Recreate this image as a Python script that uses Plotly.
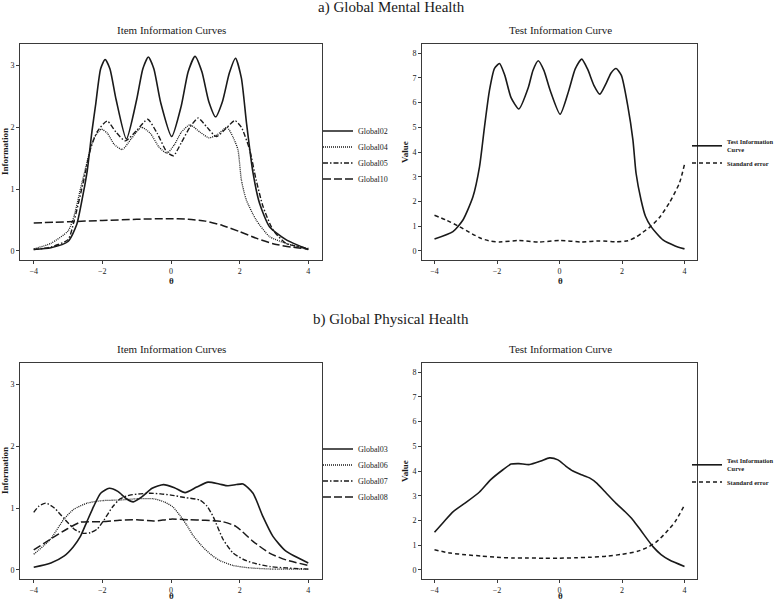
import plotly.graph_objects as go

FONT = "Liberation Serif"
INK = "#1a1a1a"
BORDER = "#3a3a3a"
W, H = 783, 600

# ---- a) Global Mental Health: item information ----
theta_g02 = [-4.0, -3.5, -3.0, -2.75, -2.55, -2.44, -2.3, -2.2, -2.05, -1.92, -1.78, -1.6,
             -1.3, -1.0, -0.82, -0.66, -0.5, -0.3, 0.02, 0.3, 0.5, 0.7, 0.9, 1.1, 1.3, 1.5,
             1.7, 1.88, 2.05, 2.2, 2.39, 2.58, 2.87, 3.35, 4.0]
info_g02 = [0.02, 0.05, 0.15, 0.42, 0.95, 1.3, 1.95, 2.35, 2.95, 3.1, 2.95, 2.45,
            1.81, 2.45, 2.95, 3.14, 2.95, 2.4, 1.85, 2.35, 2.9, 3.15, 2.9, 2.42, 2.17, 2.42,
            2.88, 3.12, 2.8, 2.07, 1.26, 0.77, 0.39, 0.18, 0.02]

theta_g04 = [-4.0, -3.5, -3.0, -2.83, -2.64, -2.44, -2.25, -2.03, -1.85, -1.65, -1.42, -1.15,
             -0.86, -0.6, -0.35, -0.12, 0.1, 0.3, 0.55, 0.85, 1.11, 1.35, 1.63, 1.8, 1.95,
             2.05, 2.19, 2.48, 2.87, 3.35, 4.0]
info_g04 = [0.03, 0.12, 0.32, 0.55, 1.0, 1.45, 1.82, 1.97, 1.9, 1.72, 1.64, 1.82,
            2.0, 1.9, 1.68, 1.58, 1.72, 1.92, 2.04, 1.92, 1.83, 1.88, 2.0, 1.85, 1.64,
            1.15, 0.83, 0.5, 0.23, 0.12, 0.02]

theta_g05 = [-4.0, -3.5, -3.0, -2.83, -2.54, -2.35, -2.15, -1.86, -1.6, -1.33, -1.0, -0.68,
             -0.4, -0.12, 0.07, 0.3, 0.55, 0.79, 1.05, 1.32, 1.6, 1.86, 2.05, 2.29, 2.48,
             2.68, 2.97, 3.35, 4.0]
info_g05 = [0.02, 0.06, 0.18, 0.47, 1.15, 1.64, 1.93, 2.1, 1.92, 1.78, 1.95, 2.13,
            1.9, 1.6, 1.54, 1.75, 2.0, 2.15, 2.0, 1.85, 1.98, 2.11, 2.0, 1.64, 1.15,
            0.72, 0.34, 0.12, 0.04]

theta_g10 = [-4.0, -3.0, -2.0, -1.0, -0.1, 0.5, 1.0, 1.5, 2.0, 2.5, 3.0, 3.5, 4.0]
info_g10 = [0.45, 0.47, 0.49, 0.51, 0.52, 0.51, 0.48, 0.41, 0.31, 0.2, 0.11, 0.06, 0.03]

# ---- a) Global Mental Health: test information ----
theta_tic_a = [-4.0, -3.41, -3.09, -2.77, -2.56, -2.4, -2.24, -2.08, -1.92, -1.75, -1.55, -1.3,
               -1.0, -0.85, -0.68, -0.5, -0.3, 0.02, 0.3, 0.5, 0.71, 0.9, 1.1, 1.29, 1.5,
               1.65, 1.81, 1.98, 2.19, 2.35, 2.45, 2.61, 2.75, 2.93, 3.31, 3.7, 4.0]
tic_a = [0.48, 0.78, 1.25, 2.19, 3.4, 5.02, 6.5, 7.38, 7.58, 7.1, 6.2, 5.74,
         6.6, 7.3, 7.69, 7.3, 6.5, 5.53, 6.5, 7.35, 7.76, 7.35, 6.7, 6.34, 6.8,
         7.2, 7.38, 7.1, 5.83, 4.48, 3.14, 2.06, 1.4, 0.98, 0.44, 0.2, 0.08]

theta_se_a = [-4.0, -3.6, -3.2, -2.8, -2.5, -2.2, -1.92, -1.3, -0.68, 0.02, 0.71, 1.29, 1.81,
              2.19, 2.45, 2.61, 2.93, 3.2, 3.52, 3.84, 4.0]
se_a = [1.44, 1.23, 0.98, 0.69, 0.5, 0.39, 0.36, 0.42, 0.36, 0.42, 0.36, 0.4, 0.37,
        0.41, 0.56, 0.7, 1.0, 1.35, 1.95, 2.75, 3.5]

# ---- b) Global Physical Health: item information ----
theta_g03 = [-4.0, -3.5, -3.12, -2.85, -2.64, -2.45, -2.25, -2.05, -1.8, -1.55, -1.3, -1.1,
             -0.85, -0.55, -0.22, 0.1, 0.41, 0.75, 1.08, 1.4, 1.66, 1.9, 2.1, 2.39, 2.68,
             2.97, 3.35, 4.0]
info_g03 = [0.04, 0.11, 0.22, 0.37, 0.54, 0.78, 1.03, 1.24, 1.32, 1.27, 1.15, 1.1,
            1.18, 1.32, 1.38, 1.33, 1.25, 1.34, 1.42, 1.39, 1.36, 1.38, 1.39, 1.24, 0.86,
            0.54, 0.3, 0.11]

theta_g06 = [-4.0, -3.52, -3.12, -2.83, -2.44, -2.0, -1.48, -1.0, -0.51, -0.2, 0.05, 0.26,
             0.45, 0.65, 0.94, 1.2, 1.42, 1.8, 2.3, 3.0, 4.0]
info_g06 = [0.25, 0.49, 0.82, 0.98, 1.08, 1.12, 1.13, 1.15, 1.15, 1.1, 1.02, 0.88,
            0.73, 0.55, 0.36, 0.23, 0.15, 0.07, 0.03, 0.01, 0.01]

theta_g07 = [-4.0, -3.85, -3.65, -3.4, -3.1, -2.8, -2.55, -2.35, -2.15, -1.96, -1.7, -1.48,
             -1.2, -0.9, -0.6, -0.3, 0.0, 0.4, 0.84, 1.05, 1.23, 1.52, 1.81, 2.1, 2.39,
             2.9, 3.35, 4.0]
info_g07 = [0.93, 1.03, 1.08, 1.0, 0.82, 0.65, 0.59, 0.6, 0.66, 0.8, 1.02, 1.15,
            1.21, 1.23, 1.24, 1.23, 1.21, 1.17, 1.13, 1.03, 0.86, 0.49, 0.27, 0.17, 0.11,
            0.05, 0.03, 0.01]

theta_g08 = [-4.0, -3.5, -3.03, -2.64, -2.0, -1.5, -1.0, -0.5, 0.0, 0.5, 1.0, 1.5, 1.9, 2.39,
             2.87, 3.35, 4.0]
info_g08 = [0.32, 0.5, 0.66, 0.77, 0.78, 0.8, 0.81, 0.79, 0.82, 0.81, 0.8, 0.78, 0.7, 0.46,
            0.27, 0.16, 0.07]

# ---- b) Global Physical Health: test information ----
theta_tic_b = [-4.0, -3.7, -3.41, -3.0, -2.56, -2.2, -1.81, -1.55, -1.3, -0.96, -0.6, -0.32,
               -0.05, 0.2, 0.43, 0.7, 0.96, 1.2, 1.5, 1.81, 2.1, 2.35, 2.6, 2.99, 3.25,
               3.52, 4.0]
tic_b = [1.52, 1.95, 2.35, 2.72, 3.15, 3.65, 4.05, 4.28, 4.3, 4.26, 4.4, 4.53,
         4.45, 4.2, 4.0, 3.85, 3.72, 3.5, 3.1, 2.69, 2.35, 2.02, 1.6, 0.94, 0.62,
         0.4, 0.14]

theta_se_b = [-4.0, -3.5, -3.0, -2.5, -2.0, -1.5, -1.0, -0.5, 0.0, 0.5, 1.0, 1.5, 2.0, 2.5,
              2.8, 3.1, 3.4, 3.7, 4.0]
se_b = [0.81, 0.68, 0.61, 0.56, 0.51, 0.48, 0.48, 0.47, 0.47, 0.49, 0.51, 0.55, 0.63, 0.75,
        0.9, 1.13, 1.5, 1.95, 2.62]

theta_ticks = [-4, -2, 0, 2, 4]
info_ticks = [0, 1, 2, 3]
value_ticks = [0, 1, 2, 3, 4, 5, 6, 7, 8]

# line styles (ggplot-like linetypes)
SOLID = "solid"
DOTTED = "1px,1px"
DOTDASH = "5px,2px,1.5px,2px"
LONGDASH = "8px,3px"
DASHED = "4px,3px"


def px(x):
    return x / W


def py(y):
    return 1 - y / H


def curve(x, y, name, dash, xa, ya, legend, width=1.4):
    return go.Scatter(
        x=x, y=y, name=name, mode="lines",
        line=dict(color=INK, width=width, dash=dash, shape="spline", smoothing=0.6),
        xaxis=xa, yaxis=ya, legend=legend, hoverinfo="skip",
    )


TIC_NAME = "<b>Test Information<br>Curve</b>"
SE_NAME = "<b>Standard error</b>"

fig = go.Figure()

# Panel a) izquierda
fig.add_trace(curve(theta_g02, info_g02, "Global02", SOLID, "x", "y", "legend", 1.6))
fig.add_trace(curve(theta_g04, info_g04, "Global04", DOTTED, "x", "y", "legend2", 1.3))
fig.add_trace(curve(theta_g05, info_g05, "Global05", DOTDASH, "x", "y", "legend3"))
fig.add_trace(curve(theta_g10, info_g10, "Global10", LONGDASH, "x", "y", "legend4", 1.5))
# Panel a) derecha
fig.add_trace(curve(theta_tic_a, tic_a, TIC_NAME, SOLID, "x2", "y2", "legend5", 1.6))
fig.add_trace(curve(theta_se_a, se_a, SE_NAME, DASHED, "x2", "y2", "legend6", 1.5))
# Panel b) izquierda
fig.add_trace(curve(theta_g03, info_g03, "Global03", SOLID, "x3", "y3", "legend7", 1.6))
fig.add_trace(curve(theta_g06, info_g06, "Global06", DOTTED, "x3", "y3", "legend8", 1.3))
fig.add_trace(curve(theta_g07, info_g07, "Global07", DOTDASH, "x3", "y3", "legend9"))
fig.add_trace(curve(theta_g08, info_g08, "Global08", LONGDASH, "x3", "y3", "legend10", 1.5))
# Panel b) derecha
fig.add_trace(curve(theta_tic_b, tic_b, TIC_NAME, SOLID, "x4", "y4", "legend11", 1.6))
fig.add_trace(curve(theta_se_b, se_b, SE_NAME, DASHED, "x4", "y4", "legend12", 1.5))

LEFT = [px(20), px(322)]
RIGHT = [px(422), px(697)]
TOP = [py(260), py(44)]
BOTTOM = [py(579), py(363)]

axis_common = dict(
    showline=True, mirror=True, linecolor=BORDER, linewidth=1,
    ticks="outside", ticklen=3, tickwidth=1, tickcolor=BORDER,
    tickfont=dict(family=FONT, size=8, color=INK),
    showgrid=False, zeroline=False, fixedrange=True,
)

layout_axes = {}
for i, (xd, yd, yr, yt) in enumerate([
    (LEFT, TOP, [-0.15, 3.35], info_ticks),
    (RIGHT, TOP, [-0.37, 8.37], value_ticks),
    (LEFT, BOTTOM, [-0.15, 3.35], info_ticks),
    (RIGHT, BOTTOM, [-0.37, 8.37], value_ticks),
], start=1):
    sfx = "" if i == 1 else str(i)
    layout_axes["xaxis" + sfx] = dict(axis_common, domain=xd, range=[-4.4, 4.4],
                                      tickvals=theta_ticks, anchor="y" + sfx)
    layout_axes["yaxis" + sfx] = dict(axis_common, domain=yd, range=yr,
                                      tickvals=yt, anchor="x" + sfx)


def legend_at(x, y, size=8):
    # una leyenda por entrada, para controlar el espaciado vertical
    return dict(
        x=px(x), y=py(y), xanchor="left", yanchor="middle", bgcolor="rgba(0,0,0,0)",
        font=dict(family=FONT, size=size, color=INK), itemwidth=30,
        itemclick=False, itemdoubleclick=False,
    )


# el texto queda 40 px a la derecha de x; la caja de la derecha no debe pasar de 783 px
legends = {
    "legend": legend_at(318, 131),
    "legend2": legend_at(318, 147),
    "legend3": legend_at(318, 163),
    "legend4": legend_at(318, 179),
    "legend5": legend_at(687, 146, 6.4),
    "legend6": legend_at(687, 163, 6.4),
    "legend7": legend_at(318, 449),
    "legend8": legend_at(318, 465),
    "legend9": legend_at(318, 481),
    "legend10": legend_at(318, 497),
    "legend11": legend_at(687, 465, 6.4),
    "legend12": legend_at(687, 482, 6.4),
}


def label(text, x, y, size, bold=False, angle=0):
    if bold:
        text = "<b>" + text + "</b>"
    return dict(text=text, x=px(x), y=py(y), xref="paper", yref="paper",
                showarrow=False, textangle=angle, xanchor="center", yanchor="middle",
                font=dict(family=FONT, size=size, color=INK))


annotations = [
    label("a) Global Mental Health", 391, 8, 15),
    label("b) Global Physical Health", 391, 319, 15),
    label("Item Information Curves", 171, 30, 11),
    label("Test Information Curve", 560, 30, 11),
    label("Item Information Curves", 171, 349, 11),
    label("Test Information Curve", 560, 349, 11),
    label("Information", 5, 152, 9, True, -90),
    label("Value", 405, 152, 9, True, -90),
    label("Information", 5, 471, 9, True, -90),
    label("Value", 405, 471, 9, True, -90),
    label("θ", 171, 281, 9, True),
    label("θ", 560, 281, 9, True),
    label("θ", 171, 596, 9, True),
    label("θ", 560, 596, 9, True),
]

fig.update_layout(
    template="none",
    width=W, height=H,
    margin=dict(l=0, r=0, t=0, b=0),
    paper_bgcolor="white", plot_bgcolor="white",
    showlegend=True,
    annotations=annotations,
    **legends,
    **layout_axes,
)

# sin el margen del <body>, la figura ocupa exactamente la ventana
PAGE_FIX = (
    "document.body.style.margin='0';"
    "document.documentElement.style.overflow='hidden';"
    "document.body.style.overflow='hidden';"
)

fig.write_html("out.html", config={"displayModeBar": False}, post_script=PAGE_FIX)
